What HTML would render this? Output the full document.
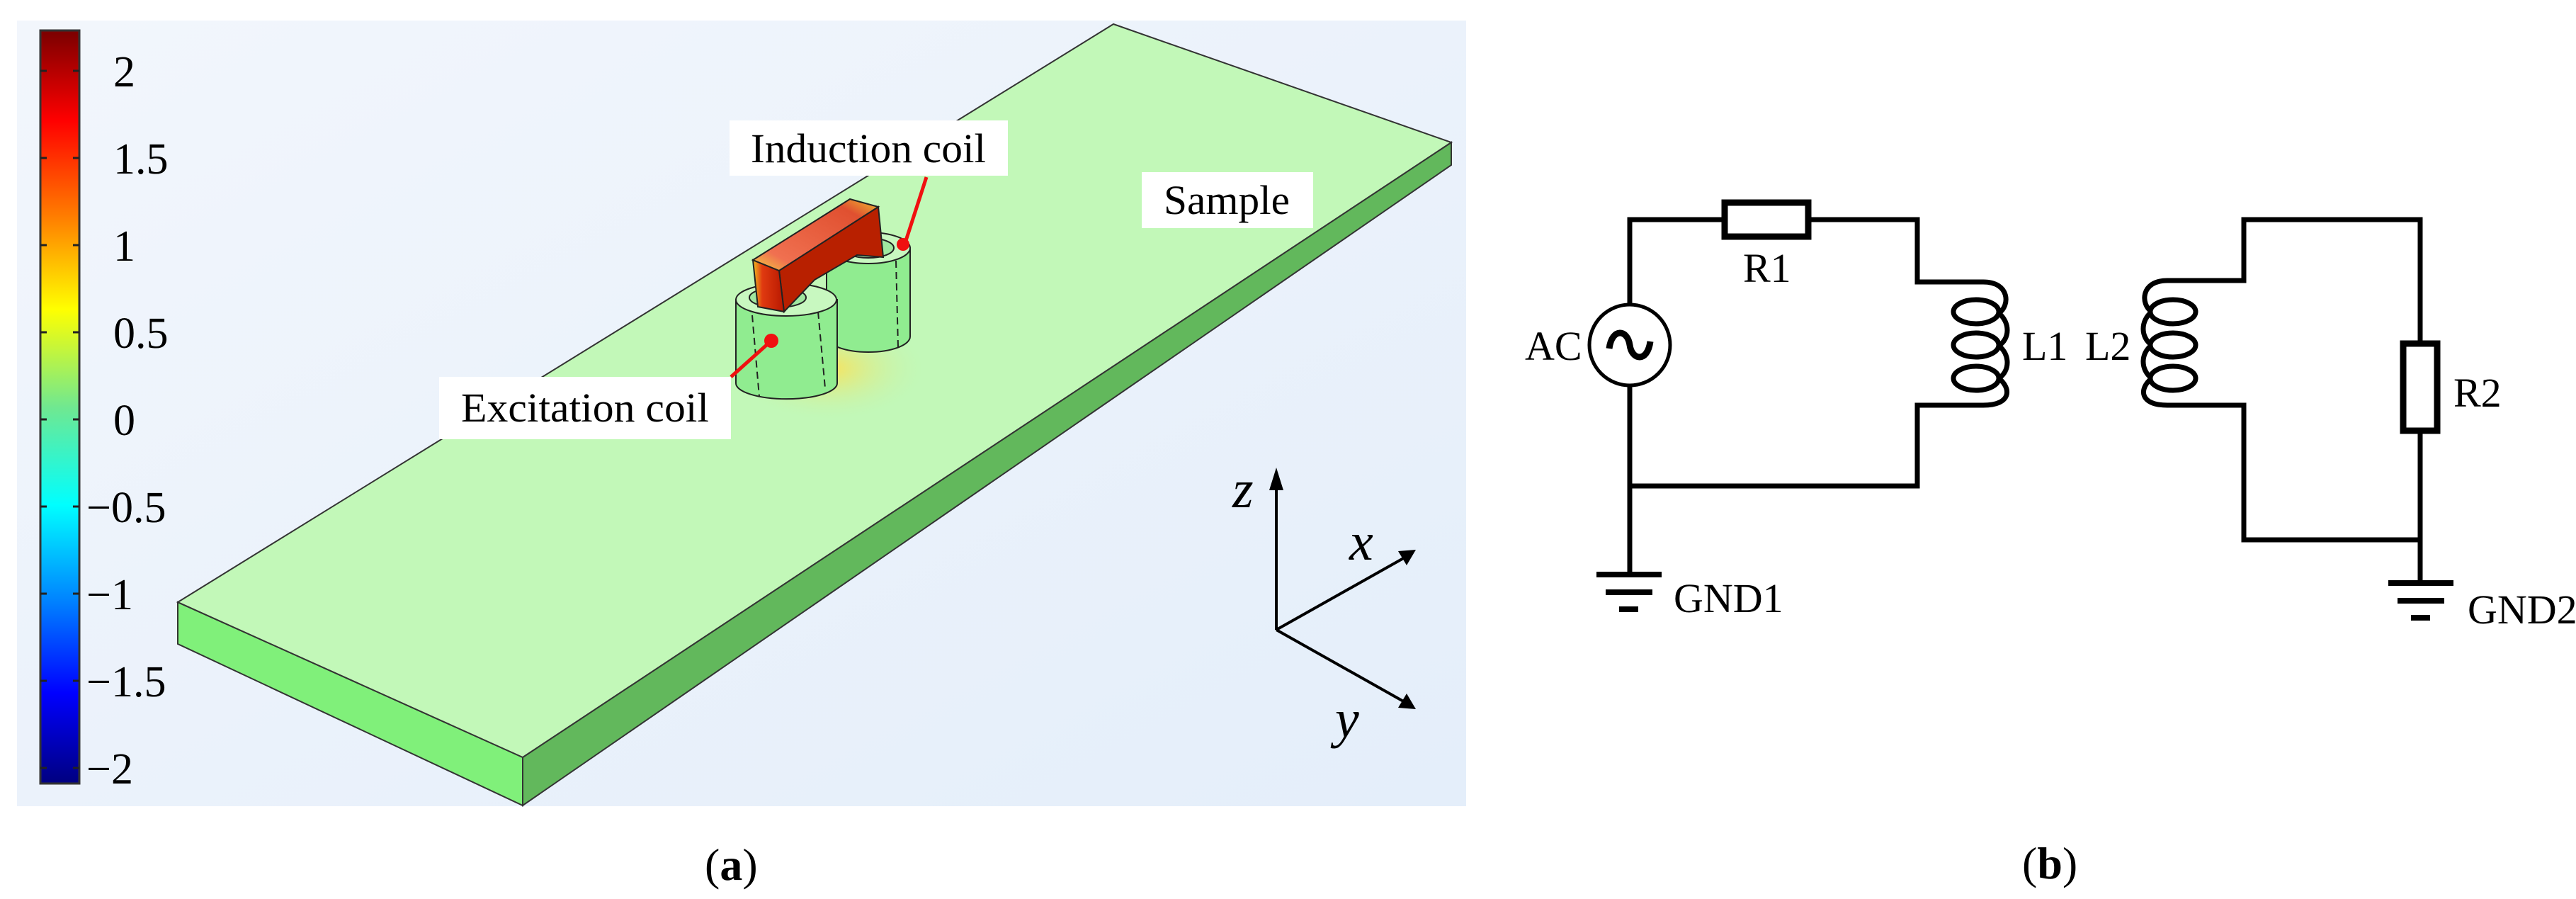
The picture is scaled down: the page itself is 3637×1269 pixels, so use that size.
<!DOCTYPE html>
<html><head><meta charset="utf-8"><style>
html,body{margin:0;padding:0;background:#fff;}
svg{display:block}
text{font-family:"Liberation Serif",serif;fill:#000}
</style></head><body>
<svg width="3637" height="1269" viewBox="0 0 3637 1269" xmlns="http://www.w3.org/2000/svg">
<defs>
<linearGradient id="bg" x1="0" y1="0" x2="1" y2="1">
<stop offset="0" stop-color="#f2f6fc"/><stop offset="1" stop-color="#e4eefa"/></linearGradient>
<linearGradient id="jet" x1="0" y1="0" x2="0" y2="1">
<stop offset="0" stop-color="#7a0000"/><stop offset="0.12" stop-color="#ff0000"/>
<stop offset="0.25" stop-color="#ff8000"/><stop offset="0.37" stop-color="#ffff00"/>
<stop offset="0.5" stop-color="#70e890"/><stop offset="0.63" stop-color="#00ffff"/>
<stop offset="0.76" stop-color="#0080ff"/><stop offset="0.88" stop-color="#0000ff"/>
<stop offset="1" stop-color="#000080"/></linearGradient>
<linearGradient id="yk" x1="0" y1="0" x2="1" y2="0">
<stop offset="0" stop-color="#f0c020"/><stop offset="0.3" stop-color="#e03a10"/><stop offset="1" stop-color="#b81800"/></linearGradient>
<linearGradient id="yt" x1="0" y1="1" x2="1" y2="0">
<stop offset="0" stop-color="#f0d040"/><stop offset="0.2" stop-color="#f07050"/><stop offset="0.8" stop-color="#e05030"/><stop offset="1" stop-color="#f0c030"/></linearGradient>
<radialGradient id="glow" cx="0.5" cy="0.5" r="0.5">
<stop offset="0" stop-color="#ffe050" stop-opacity="0.9"/><stop offset="1" stop-color="#c0f5b4" stop-opacity="0"/></radialGradient>
</defs>
<rect x="24" y="29" width="2046" height="1109" fill="url(#bg)"/>
<rect x="57" y="43" width="55" height="1063" fill="url(#jet)" stroke="#333" stroke-width="3"/>
<g stroke="#222" stroke-width="3">
<line x1="57" y1="100" x2="66" y2="100"/><line x1="103" y1="100" x2="112" y2="100"/>
<line x1="57" y1="223" x2="66" y2="223"/><line x1="103" y1="223" x2="112" y2="223"/>
<line x1="57" y1="346" x2="66" y2="346"/><line x1="103" y1="346" x2="112" y2="346"/>
<line x1="57" y1="469" x2="66" y2="469"/><line x1="103" y1="469" x2="112" y2="469"/>
<line x1="57" y1="592" x2="66" y2="592"/><line x1="103" y1="592" x2="112" y2="592"/>
<line x1="57" y1="715" x2="66" y2="715"/><line x1="103" y1="715" x2="112" y2="715"/>
<line x1="57" y1="838" x2="66" y2="838"/><line x1="103" y1="838" x2="112" y2="838"/>
<line x1="57" y1="961" x2="66" y2="961"/><line x1="103" y1="961" x2="112" y2="961"/>
<line x1="57" y1="1084" x2="66" y2="1084"/><line x1="103" y1="1084" x2="112" y2="1084"/>
</g>
<g font-size="62">
<text x="160" y="122">2</text><text x="160" y="245">1.5</text><text x="160" y="368">1</text>
<text x="160" y="491">0.5</text><text x="160" y="614">0</text><text x="122" y="737">−0.5</text>
<text x="122" y="860">−1</text><text x="122" y="983">−1.5</text><text x="122" y="1106">−2</text>
</g>
<polygon points="251,850 738,1069 738,1137 251,909" fill="#80f07a" stroke="#333" stroke-width="2"/>
<polygon points="738,1069 2049,201 2049,233 738,1137" fill="#62b85c" stroke="#333" stroke-width="2"/>
<polygon points="1572,34 2049,201 738,1069 251,850" fill="#c2f8b8" stroke="#333" stroke-width="2"/>
<ellipse cx="1170" cy="520" rx="140" ry="75" fill="url(#glow)"/>
<path d="M1167,350 L1167,475 A59,22 0 0 0 1285,475 L1285,350 Z" fill="#90ec90" stroke="#222" stroke-width="2"/>
<ellipse cx="1226" cy="350" rx="59" ry="22" fill="#c8f8c0" stroke="#222" stroke-width="2"/>
<ellipse cx="1226" cy="350" rx="36" ry="14" fill="#a0e8a0" stroke="#222" stroke-width="2"/>
<line x1="1265" y1="368" x2="1268" y2="490" stroke="#222" stroke-width="2" stroke-dasharray="10,6"/>
<path d="M1039,423 L1039,541 A71,22 0 0 0 1182,541 L1182,423 Z" fill="#90ec90" stroke="#222" stroke-width="2"/>
<ellipse cx="1110" cy="423" rx="71" ry="23" fill="#c8f8c0" stroke="#222" stroke-width="2"/>
<ellipse cx="1098" cy="420" rx="40" ry="14" fill="#a0e8a0" stroke="#222" stroke-width="2"/>
<line x1="1062" y1="445" x2="1072" y2="560" stroke="#222" stroke-width="2" stroke-dasharray="10,6"/>
<line x1="1155" y1="440" x2="1165" y2="548" stroke="#222" stroke-width="2" stroke-dasharray="10,6"/>
<polygon points="1100,382 1240,292 1247,363 1210,360 1150,395 1107,440" fill="#b82000" stroke="#222" stroke-width="2"/>
<polygon points="1063,367 1100,382 1107,440 1070,433" fill="url(#yk)" stroke="#222" stroke-width="2"/>
<polygon points="1063,367 1200,281 1240,292 1100,382" fill="url(#yt)" stroke="#222" stroke-width="2"/>
<rect x="1030" y="170" width="393" height="78" fill="#fff"/>
<text x="1060" y="229" font-size="58" textLength="332" lengthAdjust="spacingAndGlyphs">Induction coil</text>
<rect x="1612" y="243" width="242" height="79" fill="#fff"/>
<text x="1643" y="302" font-size="58" textLength="178" lengthAdjust="spacingAndGlyphs">Sample</text>
<rect x="620" y="532" width="412" height="88" fill="#fff"/>
<text x="651" y="595" font-size="58" textLength="350" lengthAdjust="spacingAndGlyphs">Excitation coil</text>
<g stroke="#f01010" stroke-width="5"><line x1="1308" y1="250" x2="1275" y2="352"/><line x1="1032" y1="532" x2="1089" y2="481"/></g>
<circle cx="1275" cy="345" r="9" fill="#f01010"/><circle cx="1089" cy="481" r="10" fill="#f01010"/>
<g stroke="#000" stroke-width="4" fill="none">
<line x1="1802" y1="889" x2="1802" y2="680"/>
<line x1="1802" y1="889" x2="1985" y2="786"/>
<line x1="1802" y1="889" x2="1985" y2="992"/>
</g>
<polygon points="1802,660 1792,692 1812,692" fill="#000"/>
<polygon points="1999,776 1974,778 1986,798" fill="#000"/>
<polygon points="1999,1001 1986,979 1974,999" fill="#000"/>
<g font-size="76" font-style="italic"><text x="1740" y="716">z</text><text x="1905" y="790">x</text><text x="1885" y="1040">y</text></g>
<text x="995" y="1242" font-size="64">(<tspan font-weight="bold">a</tspan>)</text>
<g stroke="#000" stroke-width="7" fill="none" stroke-linejoin="miter">
<polyline points="2301,430 2301,310 2432,310"/>
<polyline points="2556,310 2707,310 2707,398 2800,398"/>
<polyline points="2800,572 2707,572 2707,686 2301,686"/>
<line x1="2301" y1="545" x2="2301" y2="811"/>
<rect x="2435" y="286" width="118" height="48" stroke-width="9"/>
<circle cx="2301" cy="487" r="57" stroke-width="5"/>
<path d="M2272,492 C2276,462 2298,465 2301,487 C2304,509 2326,512 2330,482" stroke-width="9"/>
<line x1="2254" y1="811" x2="2346" y2="811" stroke-width="8"/>
<line x1="2267" y1="836" x2="2333" y2="836" stroke-width="8"/>
<line x1="2286" y1="860" x2="2313" y2="860" stroke-width="8"/>
<path d="M2800,398 C2838,398 2838,432 2822,442 M2822,442 C2838,455 2838,478 2822,488 M2822,488 C2838,500 2838,524 2822,534 M2822,534 C2840,548 2840,572 2800,572"/>
<ellipse cx="2790" cy="440" rx="32" ry="17"/><ellipse cx="2790" cy="487" rx="32" ry="17"/><ellipse cx="2790" cy="534" rx="32" ry="17"/>
<path d="M3060,396 C3022,396 3022,430 3038,440 M3038,440 C3022,453 3022,476 3038,487 M3038,487 C3022,499 3022,522 3038,534 M3038,534 C3020,548 3020,572 3060,572"/>
<ellipse cx="3068" cy="440" rx="32" ry="17"/><ellipse cx="3068" cy="487" rx="32" ry="17"/><ellipse cx="3068" cy="534" rx="32" ry="17"/>
<polyline points="3060,396 3168,396 3168,310 3417,310 3417,483"/>
<polyline points="3060,572 3168,572 3168,762 3417,762"/>
<line x1="3417" y1="610" x2="3417" y2="823"/>
<rect x="3393" y="485" width="48" height="123" stroke-width="9"/>
<line x1="3372" y1="823" x2="3464" y2="823" stroke-width="8"/>
<line x1="3385" y1="848" x2="3451" y2="848" stroke-width="8"/>
<line x1="3404" y1="872" x2="3431" y2="872" stroke-width="8"/>
</g>
<g font-size="58">
<text x="2153" y="508">AC</text>
<text x="2461" y="398">R1</text>
<text x="2855" y="508">L1</text>
<text x="2944" y="508">L2</text>
<text x="3464" y="574">R2</text>
<text x="2363" y="864">GND1</text>
<text x="3484" y="880">GND2</text>
</g>
<text x="2855" y="1240" font-size="64">(<tspan font-weight="bold">b</tspan>)</text>
</svg>
</body></html>
